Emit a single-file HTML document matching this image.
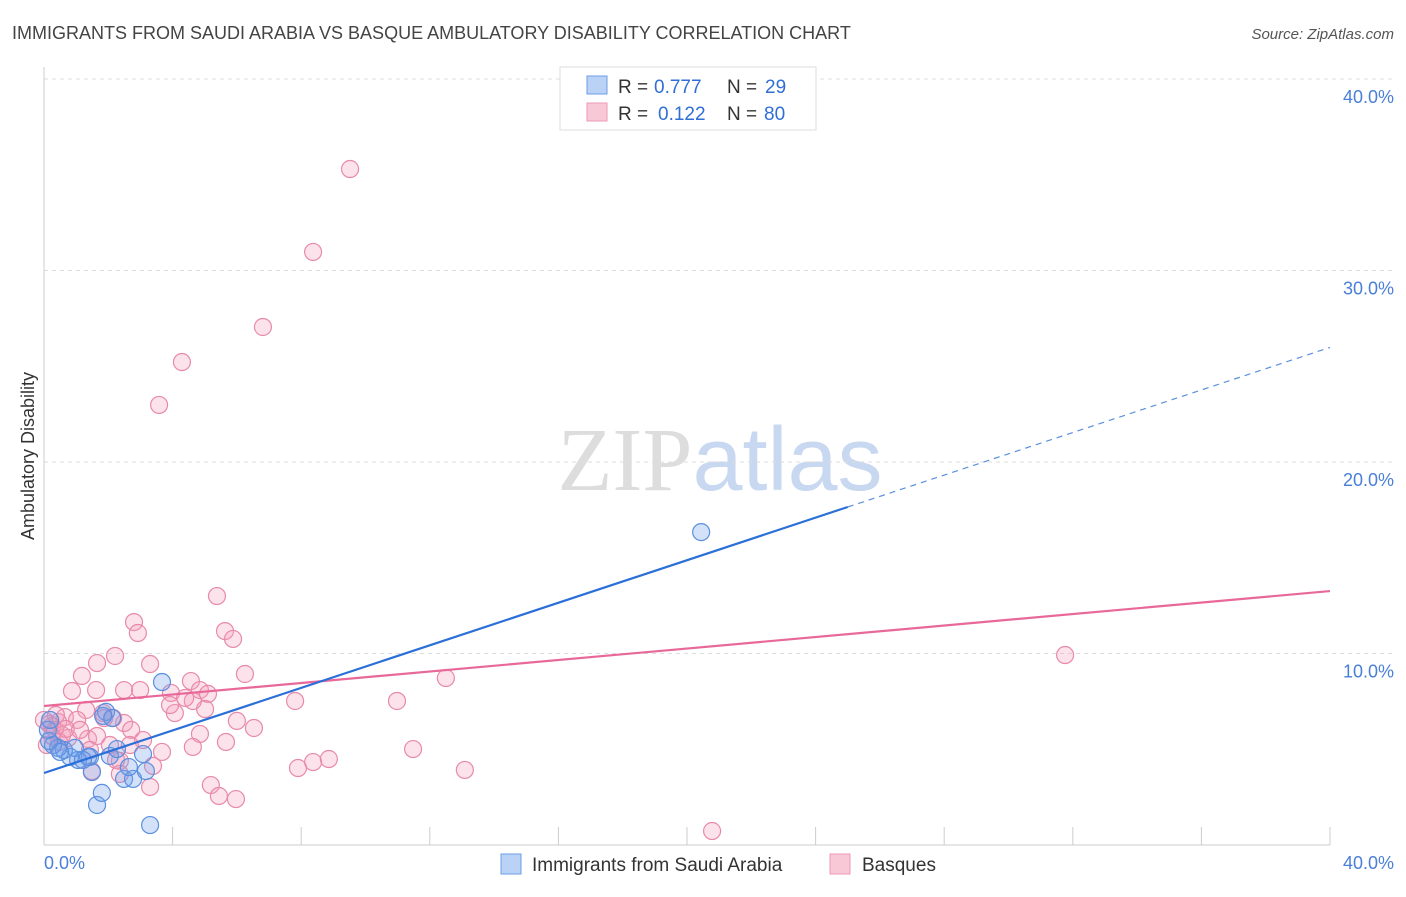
<!DOCTYPE html>
<html><head><meta charset="utf-8"><style>
body{margin:0;background:#fff;font-family:"Liberation Sans",sans-serif}
</style></head><body>
<svg width="1406" height="892" xmlns="http://www.w3.org/2000/svg" font-family="Liberation Sans, sans-serif">
<text x="12" y="39" font-size="18" fill="#444">IMMIGRANTS FROM SAUDI ARABIA VS BASQUE AMBULATORY DISABILITY CORRELATION CHART</text>
<text x="1394" y="39" font-size="15" fill="#555" font-style="italic" text-anchor="end">Source: ZipAtlas.com</text>
<text x="720" y="490" font-size="90" text-anchor="middle"><tspan fill="#ddd" font-family="Liberation Serif">ZIP</tspan><tspan fill="#c8d8f0">atlas</tspan></text>
<g id="grid"></g>
<line x1="44" y1="67" x2="44" y2="845" stroke="#ccc"/>
<line x1="44" y1="845" x2="1330" y2="845" stroke="#ccc"/>
<g id="ticks"></g>
<text transform="translate(34,456) rotate(-90)" font-size="18" fill="#333" text-anchor="middle">Ambulatory Disability</text>
<text x="44" y="869" font-size="18" fill="#4a7fd8">0.0%</text>
<text x="1394" y="869" font-size="18" fill="#4a7fd8" text-anchor="end">40.0%</text>
<g id="marks"></g>
<g>
<rect x="560" y="67" width="256" height="63" fill="#fff" stroke="#ddd"/>
<rect x="587" y="76" width="20" height="18" fill="#b9d2f5" stroke="#6b9ee8"/>
<rect x="587" y="103" width="20" height="18" fill="#f9c8d6" stroke="#ec9ab4"/>
<text x="618" y="93" font-size="19" fill="#333">R =</text>
<text x="654" y="93" font-size="19" fill="#2f6fd6">0.777</text>
<text x="727" y="93" font-size="19" fill="#333">N =</text>
<text x="765" y="93" font-size="19" fill="#2f6fd6">29</text>
<text x="618" y="120" font-size="19" fill="#333">R =</text>
<text x="658" y="120" font-size="19" fill="#2f6fd6">0.122</text>
<text x="727" y="120" font-size="19" fill="#333">N =</text>
<text x="764" y="120" font-size="19" fill="#2f6fd6">80</text>
</g>
<g>
<rect x="501" y="854" width="20" height="20" fill="#b9d2f5" stroke="#6b9ee8"/>
<text x="532" y="871" font-size="19" fill="#333">Immigrants from Saudi Arabia</text>
<rect x="830" y="854" width="20" height="20" fill="#f9c8d6" stroke="#ec9ab4"/>
<text x="862" y="871" font-size="19" fill="#333">Basques</text>
</g>
</svg>
<script>
const yTicks=[10,20,30,40];
const xTicks=[0,4,8,12,16,20,24,28,32,36,40];
const blueX=[3.67,20.44,3.30,1.65,1.80,2.49,2.77,3.17,2.64,2.05,2.27,3.08,1.43,1.06,0.81,0.62,0.44,0.28,0.16,0.12,0.19,1.93,2.12,1.84,1.49,1.37,0.96,0.50,1.21];
const blueY=[8.51,16.34,1.04,2.09,2.72,3.45,3.45,3.86,4.07,4.65,5.01,4.75,4.60,4.44,4.60,4.96,5.07,5.22,5.43,6.01,6.53,6.95,6.63,6.74,3.81,4.60,5.07,4.86,4.44];
const pinkX=[9.52,8.37,6.81,4.29,3.58,31.76,20.78,5.38,2.80,2.92,5.63,5.88,3.30,1.65,2.21,0.87,1.18,1.62,2.49,2.99,3.95,4.57,4.85,5.10,6.25,7.81,10.98,12.50,4.07,5.01,4.63,1.84,1.31,0.65,1.03,0.44,0.25,0.16,0.34,0.56,0.75,1.37,1.65,2.05,2.49,2.71,3.08,2.15,6.00,6.53,4.85,5.66,3.67,4.63,2.36,2.24,1.49,2.36,3.39,3.30,5.19,5.44,5.97,7.90,8.37,8.86,11.48,13.09,0.09,0.25,0.47,0.68,1.87,1.12,1.43,2.67,3.92,4.39,0.37,0.00];
const pinkY=[35.30,30.97,27.05,25.22,22.98,9.92,0.73,13.00,11.64,11.07,11.17,10.76,9.45,9.50,9.87,8.04,8.83,8.09,8.09,8.09,7.94,8.56,8.09,7.89,8.93,7.52,7.52,8.72,6.89,7.10,7.52,6.89,7.05,6.68,6.53,6.42,6.21,6.32,6.01,5.74,5.59,5.54,5.69,5.22,6.37,6.01,5.48,6.63,6.48,6.11,5.80,5.38,4.86,5.12,4.39,4.44,3.86,3.71,4.13,3.03,3.13,2.56,2.40,4.02,4.33,4.49,5.01,3.92,5.22,5.69,5.38,6.06,6.63,6.01,4.96,5.22,7.31,7.68,6.79,6.53];
const blueLine=[3.76,0.5556];
const pinkLine=[7.26,0.15];
const NS="http://www.w3.org/2000/svg";
const sx=v=>44+v*32.15, sy=v=>845-v*19.15;
function mk(t,a,p){const e=document.createElementNS(NS,t);for(const k in a)e.setAttribute(k,a[k]);document.getElementById(p).appendChild(e);return e;}
yTicks.forEach(v=>{
 const l=mk('line',{x1:44,x2:1394,y1:sy(v),y2:sy(v),stroke:'#ddd','stroke-dasharray':'4,4'},'grid');
 
 
 const t=mk('text',{x:1394,y:sy(v)+24,'font-size':18,fill:'#4a7fd8','text-anchor':'end'},'grid');
 t.textContent=v.toFixed(1)+'%';
 
 
});
xTicks.slice(1).forEach(v=>{
 const l=mk('line',{x1:sx(v),x2:sx(v),y1:827,y2:845,stroke:'#ccc'},'ticks');
 
 
});
function dot(x,y,s,f,n){
 const c=mk('circle',{cx:sx(x),cy:sy(y),r:8.5,fill:f,stroke:s,'stroke-width':1.2},'marks');
 
 
}
pinkX.forEach((x,i)=>dot(x,pinkY[i],'#e88aa9','rgba(245,160,190,0.3)','basques-point'));
blueX.forEach((x,i)=>dot(x,blueY[i],'#5b8fdf','rgba(110,160,235,0.3)','saudi-point'));
let l=mk('line',{x1:sx(0),y1:sy(pinkLine[0]),x2:sx(40),y2:sy(pinkLine[0]+40*pinkLine[1]),stroke:'#e8689a','stroke-width':2.2},'marks');


l=mk('line',{x1:sx(0),y1:sy(blueLine[0]),x2:sx(25),y2:sy(blueLine[0]+25*blueLine[1]),stroke:'#2b6fd8','stroke-width':2.2},'marks');


l=mk('line',{x1:sx(25),y1:sy(blueLine[0]+25*blueLine[1]),x2:sx(40),y2:sy(blueLine[0]+40*blueLine[1]),stroke:'#5b8fdf','stroke-width':1.2,'stroke-dasharray':'6,5'},'marks');


</script>
</body></html>
